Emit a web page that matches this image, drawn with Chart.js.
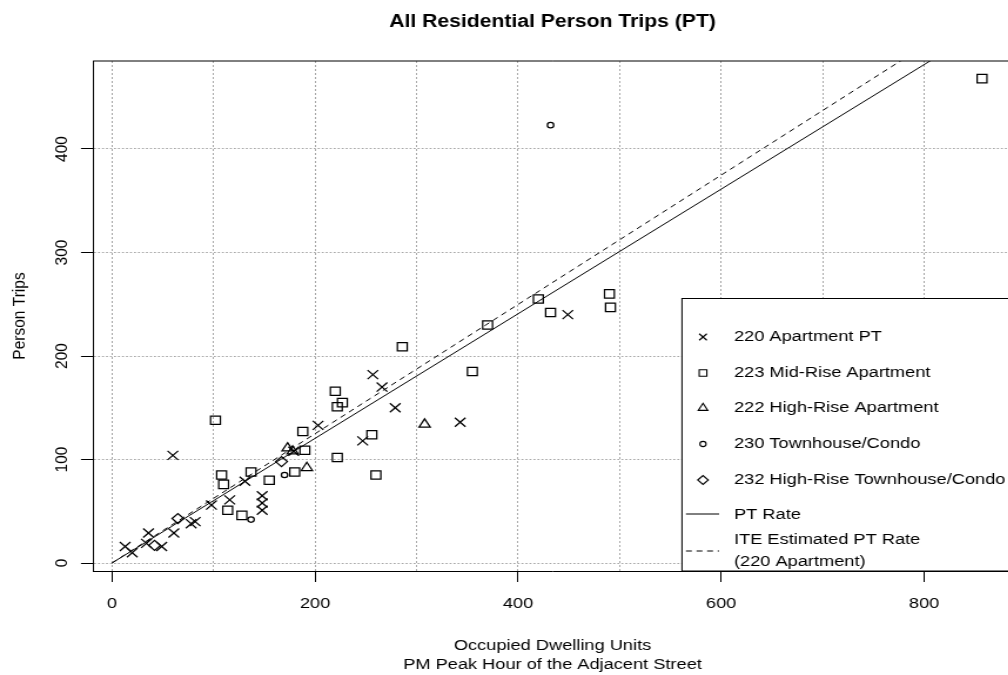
<!DOCTYPE html>
<html><head><meta charset="utf-8">
<script src="https://cdn.jsdelivr.net/npm/chart.js@4/dist/chart.umd.min.js"></script>
<style>
html,body{margin:0;padding:0;overflow:hidden;background:#fff;width:1008px;height:675px;}
#wrap{position:absolute;left:0;top:0;width:869px;height:675px;transform:scaleX(1.175);transform-origin:0 0;}
#c{display:block;width:869px;height:675px;}
</style></head><body>
<div id="wrap"><canvas id="c" width="869" height="675"></canvas></div>
<script>
// ---- data ----
const chartTitle = 'All Residential Person Trips (PT)';
const xTitle = ['Occupied Dwelling Units', 'PM Peak Hour of the Adjacent Street'];
const yTitle = 'Person Trips';
const xGridValues = [0, 100, 200, 300, 400, 500, 600, 700, 800];
const xTickLabels = [0, 200, 400, 600, 800];
const yTickLabels = [0, 100, 200, 300, 400];

const seriesNames = ['220 Apartment PT', '223 Mid-Rise Apartment', '222 High-Rise Apartment', '230 Townhouse/Condo', '232 High-Rise Townhouse/Condo'];
const lineNames = ['PT Rate', ['ITE Estimated PT Rate', '(220 Apartment)']];

const apt220X = [13, 20, 34, 36, 49, 60, 61, 78, 82, 98, 116, 131, 148, 148, 148, 179, 203, 247, 257, 266, 279, 343, 449];
const apt220Y = [16, 10, 19, 29, 16, 104, 29, 38, 40, 56, 61, 79, 65, 58, 51, 108, 133, 118, 182, 170, 150, 136, 240];

const mid223X = [102, 108, 110, 114, 128, 137, 155, 180, 188, 190, 220, 222, 227, 222, 256, 260, 286, 355, 370, 420, 432, 490, 491, 857];
const mid223Y = [138, 85, 76, 51, 46, 88, 80, 88, 127, 109, 166, 151, 155, 102, 124, 85, 209, 185, 230, 255, 242, 260, 247, 468];

const high222X = [173, 178, 192, 308];
const high222Y = [111, 108, 92, 134];

const town230X = [137, 170, 432];
const town230Y = [42, 85, 423];

const hrTown232X = [42, 65, 167];
const hrTown232Y = [17, 43, 98];

const lineX = [0, 886.6];
const ptRateY = [0, 533.7];
const iteRateY = [0, 553.7];

// ---- build ----
const pts = (xs, ys) => xs.map((x, i) => ({x, y: ys[i]}));
const FONT = 'Liberation Sans, Arial, Helvetica, sans-serif';
Chart.defaults.font.family = FONT;
Chart.defaults.color = '#000';

const styles = ['crossRot', 'rect', 'triangle', 'circle', 'rectRot'];
const radii = [6.4, 5.9, 5.5, 2.7, 5];
const seriesData = [pts(apt220X, apt220Y), pts(mid223X, mid223Y), pts(high222X, high222Y), pts(town230X, town230Y), pts(hrTown232X, hrTown232Y)];

const datasets = seriesData.map((d, i) => ({
  type: 'scatter', label: seriesNames[i], data: d,
  pointStyle: styles[i], pointRadius: radii[i], pointHoverRadius: radii[i],
  borderColor: '#000', backgroundColor: 'rgba(0,0,0,0)', pointBorderWidth: 1.25, borderWidth: 1.25
}));
datasets.push({type: 'line', label: 'PT Rate', data: pts(lineX, ptRateY), borderColor: '#000', borderWidth: 1, pointRadius: 0, fill: false});
datasets.push({type: 'line', label: 'ITE Estimated PT Rate', data: pts(lineX, iteRateY), borderColor: '#000', borderWidth: 1, borderDash: [5, 4], pointRadius: 0, fill: false});

function sym(ctx, style, x, y, r) {
  ctx.beginPath();
  if (style === 'crossRot') { const d = r * Math.SQRT1_2; ctx.moveTo(x - d, y - d); ctx.lineTo(x + d, y + d); ctx.moveTo(x + d, y - d); ctx.lineTo(x - d, y + d); }
  else if (style === 'rect') { const h = r * Math.SQRT1_2; ctx.rect(x - h, y - h, 2 * h, 2 * h); }
  else if (style === 'triangle') { const a = 2 * Math.PI / 3; ctx.moveTo(x, y - r); ctx.lineTo(x + r * Math.sin(a), y - r * Math.cos(a)); ctx.lineTo(x - r * Math.sin(a), y - r * Math.cos(a)); ctx.closePath(); }
  else if (style === 'circle') { ctx.arc(x, y, r, 0, 2 * Math.PI); }
  else if (style === 'rectRot') { ctx.moveTo(x - r, y); ctx.lineTo(x, y - r); ctx.lineTo(x + r, y); ctx.lineTo(x, y + r); ctx.closePath(); }
  ctx.stroke();
}

const rLegend = {
  id: 'rLegend',
  afterDatasetsDraw(chart) {
    const {ctx, chartArea: ca} = chart;
    const L = 580.4, T = 298.5;
    ctx.save();
    ctx.fillStyle = '#fff';
    ctx.fillRect(L, T, ca.right - L + 10, ca.bottom - T);
    ctx.strokeStyle = '#000'; ctx.lineWidth = 1;
    ctx.strokeRect(L, T, ca.right - L + 10, ca.bottom - T);
    const rowsY = [337, 373, 408, 444, 480];
    const legR = [4.6, 4.6, 4.7, 2.6, 4.5];
    const symX = 598.3, textX = 624.7;
    ctx.font = '15.5px ' + FONT;
    ctx.textBaseline = 'middle'; ctx.textAlign = 'left'; ctx.fillStyle = '#000';
    ctx.lineWidth = 1.1;
    seriesNames.forEach((n, i) => {
      sym(ctx, styles[i], symX, rowsY[i], legR[i]);
      ctx.fillText(n, textX, rowsY[i]);
    });
    ctx.lineWidth = 1;
    ctx.beginPath(); ctx.moveTo(583.8, 514); ctx.lineTo(612, 514); ctx.stroke();
    ctx.fillText(lineNames[0], textX, 515);
    ctx.setLineDash([5, 4]);
    ctx.beginPath(); ctx.moveTo(583.8, 551); ctx.lineTo(612, 551); ctx.stroke();
    ctx.setLineDash([]);
    ctx.fillText(lineNames[1][0], textX, 540);
    ctx.fillText(lineNames[1][1], textX, 562);
    ctx.restore();
  },
  afterDraw(chart) {
    const {ctx, chartArea: ca} = chart;
    ctx.save();
    ctx.strokeStyle = '#000'; ctx.lineWidth = 1;
    ctx.beginPath();
    ctx.moveTo(ca.left, ca.top); ctx.lineTo(ca.right, ca.top); ctx.lineTo(ca.right, ca.bottom);
    ctx.stroke();
    ctx.restore();
  }
};

new Chart(document.getElementById('c'), {
  data: {datasets},
  options: {
    responsive: false, maintainAspectRatio: false, animation: false, events: [], devicePixelRatio: 1,
    layout: {padding: 0},
    plugins: {
      legend: {display: false}, tooltip: {enabled: false},
      title: {display: true, text: chartTitle, fullSize: false, color: '#000',
        font: {size: 18, weight: 'bold', family: FONT}, padding: {top: 11.2, bottom: 28.2}}
    },
    scales: {
      x: {
        type: 'linear', position: 'bottom', min: -18.7, max: 886.6,
        afterBuildTicks: s => { s.ticks = xGridValues.map(v => ({value: v})); },
        afterFit: s => { s.height = 104; },
        border: {display: true, color: '#000', width: 1, dash: [2, 2]},
        grid: {color: '#a8a8a8', lineWidth: 1, drawTicks: true, tickLength: 11, tickWidth: 1,
          tickColor: c => (c.tick && xTickLabels.includes(c.tick.value)) ? '#000' : 'rgba(0,0,0,0)'},
        ticks: {autoSkip: false, maxRotation: 0, minRotation: 0, padding: 12,
          color: '#000', font: {size: 15.5},
          callback: v => xTickLabels.includes(v) ? String(v) : ''},
        title: {display: true, text: xTitle, color: '#000', font: {size: 15.5, lineHeight: '19px'}, padding: {top: 0, bottom: 0.5}}
      },
      y: {
        type: 'linear', position: 'left', min: -7.7, max: 485,
        afterBuildTicks: s => { s.ticks = yTickLabels.map(v => ({value: v})); },
        afterFit: s => { s.width = 79.1; },
        border: {display: true, color: '#000', width: 1, dash: [1.7, 1.7]},
        grid: {color: '#a8a8a8', lineWidth: 1, drawTicks: true, tickLength: 10.2, tickWidth: 1, tickColor: '#000'},
        ticks: {autoSkip: false, minRotation: 90, maxRotation: 90, crossAlign: 'center', padding: 3,
          color: '#000', font: {size: 15.5},
          callback: v => yTickLabels.includes(v) ? String(v) : ''},
        title: {display: true, text: yTitle, color: '#000', font: {size: 15.5, lineHeight: '19px'}, padding: {top: 7.5, bottom: 0}}
      }
    }
  },
  plugins: [rLegend]
});
</script>
</body></html>
